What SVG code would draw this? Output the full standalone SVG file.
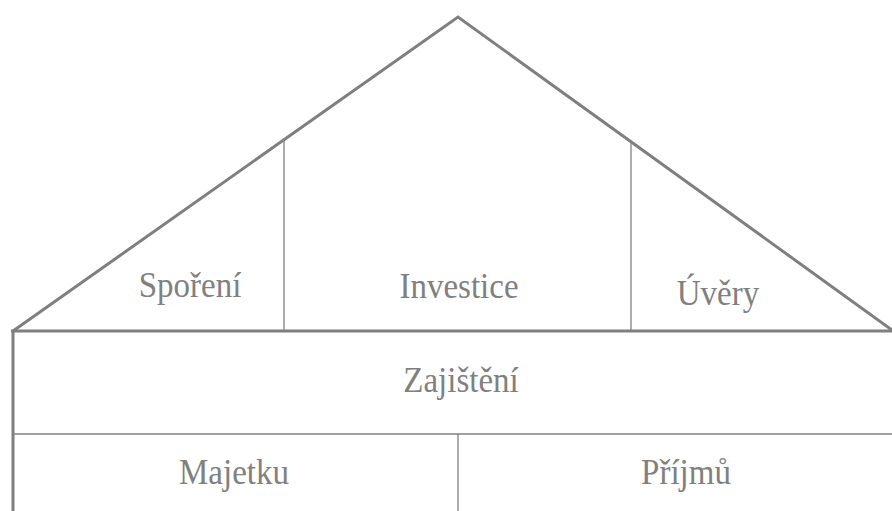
<svg xmlns="http://www.w3.org/2000/svg" width="892" height="511" viewBox="0 0 892 511">
<style>
.thick{stroke:#7f7f7f;stroke-width:3;fill:none}
.thin{stroke:#808080;stroke-width:1.3;fill:none}
</style>
<rect width="892" height="511" fill="#ffffff"/>
<g id="connectors">
<polyline class="thick" points="13,331 458,17 892,330"/>
<line class="thick" x1="11" y1="331" x2="892" y2="331"/>
<line class="thick" x1="13" y1="331" x2="13" y2="511"/>
<line class="thin" x1="284" y1="141" x2="284" y2="331"/>
<line class="thin" x1="631" y1="141" x2="631" y2="331"/>
<line class="thin" x1="13" y1="434" x2="892" y2="434"/>
<line class="thin" x1="458" y1="434" x2="458" y2="511"/>
</g>
<g font-family="'Liberation Serif', 'Times New Roman', serif" font-size="33" fill="#808080" text-anchor="middle">
<g id="sporeni"><text transform="translate(190,297) scale(1,1.1)">Spoření</text></g>
<g id="investice"><text transform="translate(459,298) scale(1,1.1)">Investice</text></g>
<g id="uvery"><text transform="translate(718,305) scale(1,1.1)">Úvěry</text></g>
<g id="zajisteni"><text transform="translate(461,392) scale(1,1.1)">Zajištění</text></g>
<g id="majetku"><text transform="translate(234,484) scale(1,1.1)">Majetku</text></g>
<g id="prijmu"><text transform="translate(686,484) scale(1,1.1)">Příjmů</text></g>
</g>
</svg>
